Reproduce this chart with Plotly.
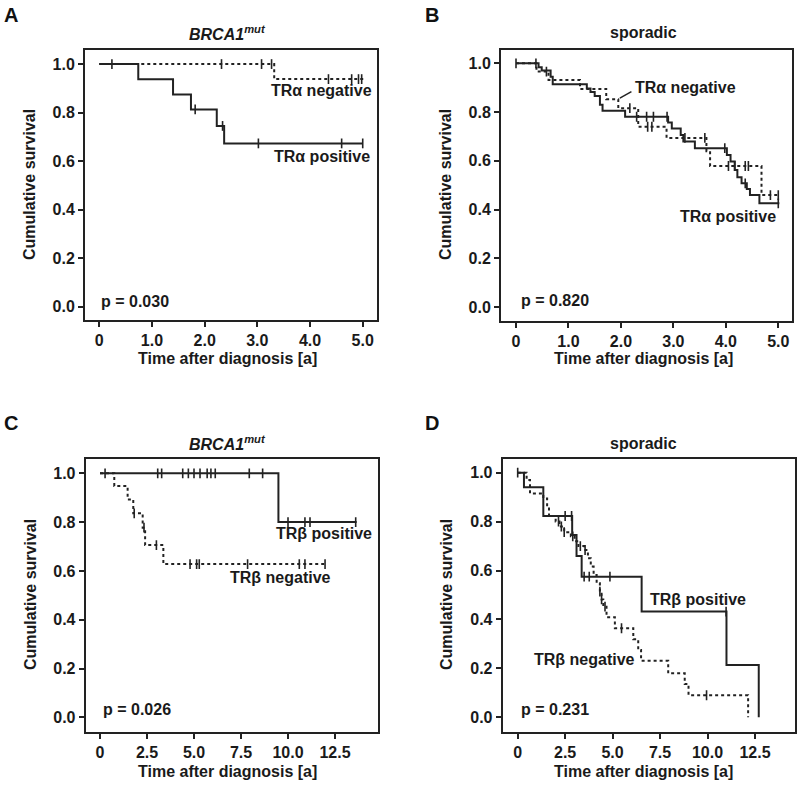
import numpy as np
import plotly.graph_objects as go

# ---------------- data (Kaplan-Meier steps) ----------------
# Panel A: BRCA1mut, TR alpha
A_pos_times = [0.74, 1.40, 1.74, 2.23, 2.37]
A_pos_surv = [0.937, 0.875, 0.813, 0.745, 0.673]
A_pos_censor = [1.82, 2.34, 3.02, 4.60, 5.0]
A_pos_end = 5.0
A_neg_times = [3.32]
A_neg_surv = [0.938]
A_neg_censor = [0.24, 2.32, 3.08, 3.27, 4.35, 4.79, 4.92, 4.98]
A_neg_end = 5.02

# Panel B: sporadic, TR alpha
B_pos_times = [0.43, 0.49, 0.66, 0.70, 1.35, 1.42, 1.50, 1.60, 1.65, 2.08, 2.90, 2.97,
               3.14, 3.19, 3.41, 4.02, 4.09, 4.17, 4.22, 4.30, 4.40, 4.46, 4.64]
B_pos_surv = [0.984, 0.970, 0.945, 0.914, 0.897, 0.882, 0.866, 0.830, 0.805, 0.781, 0.757, 0.733,
              0.706, 0.679, 0.652, 0.624, 0.597, 0.563, 0.533, 0.508, 0.485, 0.460, 0.426]
B_pos_censor = [0.38, 2.30, 2.49, 2.62, 2.88, 3.98, 4.37, 5.0]
B_pos_end = 5.02
B_neg_times = [0.39, 0.62, 1.22, 1.72, 1.95, 2.33, 2.87, 3.63, 3.70, 4.68]
B_neg_surv = [0.966, 0.932, 0.895, 0.853, 0.816, 0.740, 0.694, 0.640, 0.579, 0.460]
B_neg_censor = [0.0, 0.58, 2.17, 2.51, 2.59, 3.22, 3.60, 4.05, 4.17, 4.37, 4.43, 4.85, 5.0]
B_neg_end = 5.02

# Panel C: BRCA1mut, TR beta
C_pos_times = [9.49]
C_pos_surv = [0.80]
C_pos_censor = [0.27, 3.07, 3.28, 4.4, 4.7, 5.0, 5.32, 5.7, 5.9, 6.13, 7.94, 8.65,
                10.0, 10.9, 11.17, 13.6]
C_pos_end = 13.65
C_neg_times = [0.76, 1.47, 1.77, 2.27, 2.40, 3.37]
C_neg_surv = [0.948, 0.893, 0.836, 0.777, 0.706, 0.628]
C_neg_censor = [1.82, 2.34, 3.0, 4.79, 5.14, 5.28, 7.85, 10.6, 10.9, 11.97]
C_neg_end = 12.05

# Panel D: sporadic, TR beta
D_pos_times = [0.33, 1.35, 2.87, 3.10, 3.37, 6.53, 11.0, 12.7]
D_pos_surv = [0.94, 0.823, 0.745, 0.659, 0.575, 0.432, 0.214, 0.0]
D_pos_censor = [0.0, 2.5, 2.84, 3.5, 3.77, 4.86, 10.98]
D_pos_end = 12.7
D_neg_times = [0.47, 0.65, 1.35, 1.55, 1.65, 2.0, 2.2, 2.45, 2.8, 3.0,
               3.2, 3.5, 3.7, 3.85, 4.0, 4.16, 4.33, 4.42, 4.51, 4.68,
               5.12, 6.09, 6.35, 6.5, 7.93, 8.8, 9.0, 12.14]
D_neg_surv = [0.97, 0.915, 0.895, 0.86, 0.823, 0.80, 0.78, 0.757, 0.74, 0.72,
              0.70, 0.684, 0.65, 0.616, 0.582, 0.548, 0.514, 0.482, 0.452, 0.409,
              0.364, 0.319, 0.275, 0.231, 0.18, 0.136, 0.09, 0.0]
D_neg_censor = [2.15, 2.3, 2.45, 2.9, 3.3, 3.55, 4.33, 4.42, 4.6, 5.47, 9.95]
D_neg_end = 12.14

p_values = ["p = 0.030", "p = 0.820", "p = 0.026", "p = 0.231"]
panel_letters = ["A", "B", "C", "D"]
panel_titles = ["<i>BRCA1</i><sup><i>mut</i></sup>", "sporadic",
                "<i>BRCA1</i><sup><i>mut</i></sup>", "sporadic"]
short_ticks = [0, 1, 2, 3, 4, 5]
short_ticktext = ["0", "1.0", "2.0", "3.0", "4.0", "5.0"]
long_ticks = [0, 2.5, 5, 7.5, 10, 12.5]
long_ticktext = ["0", "2.5", "5.0", "7.5", "10.0", "12.5"]
y_ticks = [0, 0.2, 0.4, 0.6, 0.8, 1.0]
y_ticktext = ["0.0", "0.2", "0.4", "0.6", "0.8", "1.0"]

# ---------------- styling ----------------
INK = "#222222"
FONT = "Liberation Sans, Arial, sans-serif"
W, H = 800, 785


def px(x):
    return x / W


def py(y):
    return 1 - y / H


fig = go.Figure()


def add_curve(ax, times, surv, censor, end, dash):
    xs = [0] + list(times) + [end]
    ys = [1.0] + list(surv) + [surv[-1]]
    xa = "x" if ax == 1 else f"x{ax}"
    ya = "y" if ax == 1 else f"y{ax}"
    fig.add_trace(go.Scatter(x=xs, y=ys, mode="lines", line_shape="hv",
                             line=dict(color=INK, width=2, dash=dash),
                             xaxis=xa, yaxis=ya, showlegend=False, hoverinfo="skip"))
    idx = np.searchsorted(np.array(times), np.array(censor), side="right")
    cy = [1.0 if i == 0 else surv[i - 1] for i in idx]
    fig.add_trace(go.Scatter(x=censor, y=cy, mode="markers",
                             marker=dict(symbol="line-ns", size=7,
                                         line=dict(color=INK, width=1.6)),
                             xaxis=xa, yaxis=ya, showlegend=False, hoverinfo="skip"))


add_curve(1, A_neg_times, A_neg_surv, A_neg_censor, A_neg_end, "dot")
add_curve(1, A_pos_times, A_pos_surv, A_pos_censor, A_pos_end, "solid")
add_curve(2, B_neg_times, B_neg_surv, B_neg_censor, B_neg_end, "dot")
add_curve(2, B_pos_times, B_pos_surv, B_pos_censor, B_pos_end, "solid")
add_curve(3, C_neg_times, C_neg_surv, C_neg_censor, C_neg_end, "dot")
add_curve(3, C_pos_times, C_pos_surv, C_pos_censor, C_pos_end, "solid")
add_curve(4, D_neg_times, D_neg_surv, D_neg_censor, D_neg_end, "dot")
add_curve(4, D_pos_times, D_pos_surv, D_pos_censor, D_pos_end, "solid")

# box pixel geometry: (left, right, top, bottom)
boxes = [(85, 377, 50, 320), (501, 791.5, 50, 320.7),
         (85.7, 377.7, 459, 731.7), (502.7, 795, 459, 731.7)]
x_ranges = [[-0.271, 5.271], [-0.286, 5.252], [-0.76, 14.77], [-0.79, 14.61]]
y_ranges = [[-0.055, 1.058], [-0.055, 1.0545], [-0.059, 1.0586], [-0.059, 1.056]]

tickfont = dict(family=FONT, size=16, color="#1a1a1a", weight="bold")
layout_axes = {}
for i in range(4):
    l, r, t, b = boxes[i]
    suffix = "" if i == 0 else str(i + 1)
    long_axis = i >= 2
    layout_axes["xaxis" + suffix] = dict(
        domain=[px(l), px(r)], anchor="y" + suffix, range=x_ranges[i],
        tickvals=long_ticks if long_axis else short_ticks,
        ticktext=long_ticktext if long_axis else short_ticktext,
        showline=True, linecolor=INK, linewidth=2, mirror=True,
        ticks="outside", ticklen=5, tickwidth=1.5, tickcolor=INK,
        showgrid=False, zeroline=False, tickfont=tickfont)
    layout_axes["yaxis" + suffix] = dict(
        domain=[py(b), py(t)], anchor="x" + suffix, range=y_ranges[i],
        tickvals=y_ticks, ticktext=y_ticktext,
        showline=True, linecolor=INK, linewidth=2, mirror=True,
        ticks="outside", ticklen=5, tickwidth=1.5, tickcolor=INK,
        showgrid=False, zeroline=False, tickfont=tickfont)

fig.update_layout(**layout_axes)

txt = dict(family=FONT, size=16, color="#1a1a1a", weight="bold")
ann = []
letter_pos = [(11, 15), (432, 15), (11, 423), (432, 423)]
title_pos = [(227, 33), (643, 33), (227, 443), (643, 443)]
xtitle_pos = [(227, 358), (643, 358), (227, 771), (643, 771)]
ytitle_pos = [(30, 185), (446, 185), (30, 595), (446, 595)]
common = dict(xref="paper", yref="paper", showarrow=False,
              xanchor="center", yanchor="middle")
for i in range(4):
    ann.append(dict(text=panel_letters[i], x=px(letter_pos[i][0]), y=py(letter_pos[i][1]),
                    font=dict(family=FONT, size=20, color="#111", weight="bold"), **common))
    ann.append(dict(text=panel_titles[i], x=px(title_pos[i][0]), y=py(title_pos[i][1]),
                    font=txt, **common))
    ann.append(dict(text="Time after diagnosis [a]", x=px(xtitle_pos[i][0]),
                    y=py(xtitle_pos[i][1]), font=txt, **common))
    ann.append(dict(text="Cumulative survival", x=px(ytitle_pos[i][0]),
                    y=py(ytitle_pos[i][1]), textangle=-90, font=txt, **common))

# p-values (left aligned at t ~ 0 near the bottom of each panel)
p_pos = [(0.0, 0.02), (0.06, 0.026), (0.05, 0.03), (0.08, 0.03)]
for i in range(4):
    suffix = "" if i == 0 else str(i + 1)
    ann.append(dict(text=p_values[i], x=p_pos[i][0], y=p_pos[i][1],
                    xref="x" + suffix, yref="y" + suffix, xanchor="left",
                    yanchor="middle", showarrow=False, font=txt))

# curve labels
labels = [
    (1, "TRα negative", 4.22, 0.889, "center"),
    (1, "TRα positive", 4.22, 0.621, "center"),
    (2, "TRα negative", 2.23, 0.901, "left"),
    (2, "TRα positive", 4.05, 0.371, "center"),
    (3, "TRβ positive", 11.93, 0.754, "center"),
    (3, "TRβ negative", 9.62, 0.574, "center"),
    (4, "TRβ positive", 9.5, 0.482, "center"),
    (4, "TRβ negative", 3.54, 0.237, "center"),
]
for ax, text, x, y, anchor in labels:
    suffix = "" if ax == 1 else str(ax)
    ann.append(dict(text=text, x=x, y=y, xref="x" + suffix, yref="y" + suffix,
                    xanchor=anchor, yanchor="middle", showarrow=False, font=txt))

fig.update_layout(annotations=ann)

# leader line for "TRα negative" in panel B
fig.add_shape(type="line", x0=2.20, y0=0.884, x1=1.98, y1=0.857,
              xref="x2", yref="y2", line=dict(color=INK, width=1.5))

fig.update_layout(width=W, height=H, margin=dict(l=0, r=0, t=0, b=0),
                  paper_bgcolor="white", plot_bgcolor="white",
                  font=dict(family=FONT, color="#1a1a1a"))

fig.write_html("out.html", config={"displayModeBar": False},
               post_script="document.body.style.margin='0';document.body.style.padding='0';")
